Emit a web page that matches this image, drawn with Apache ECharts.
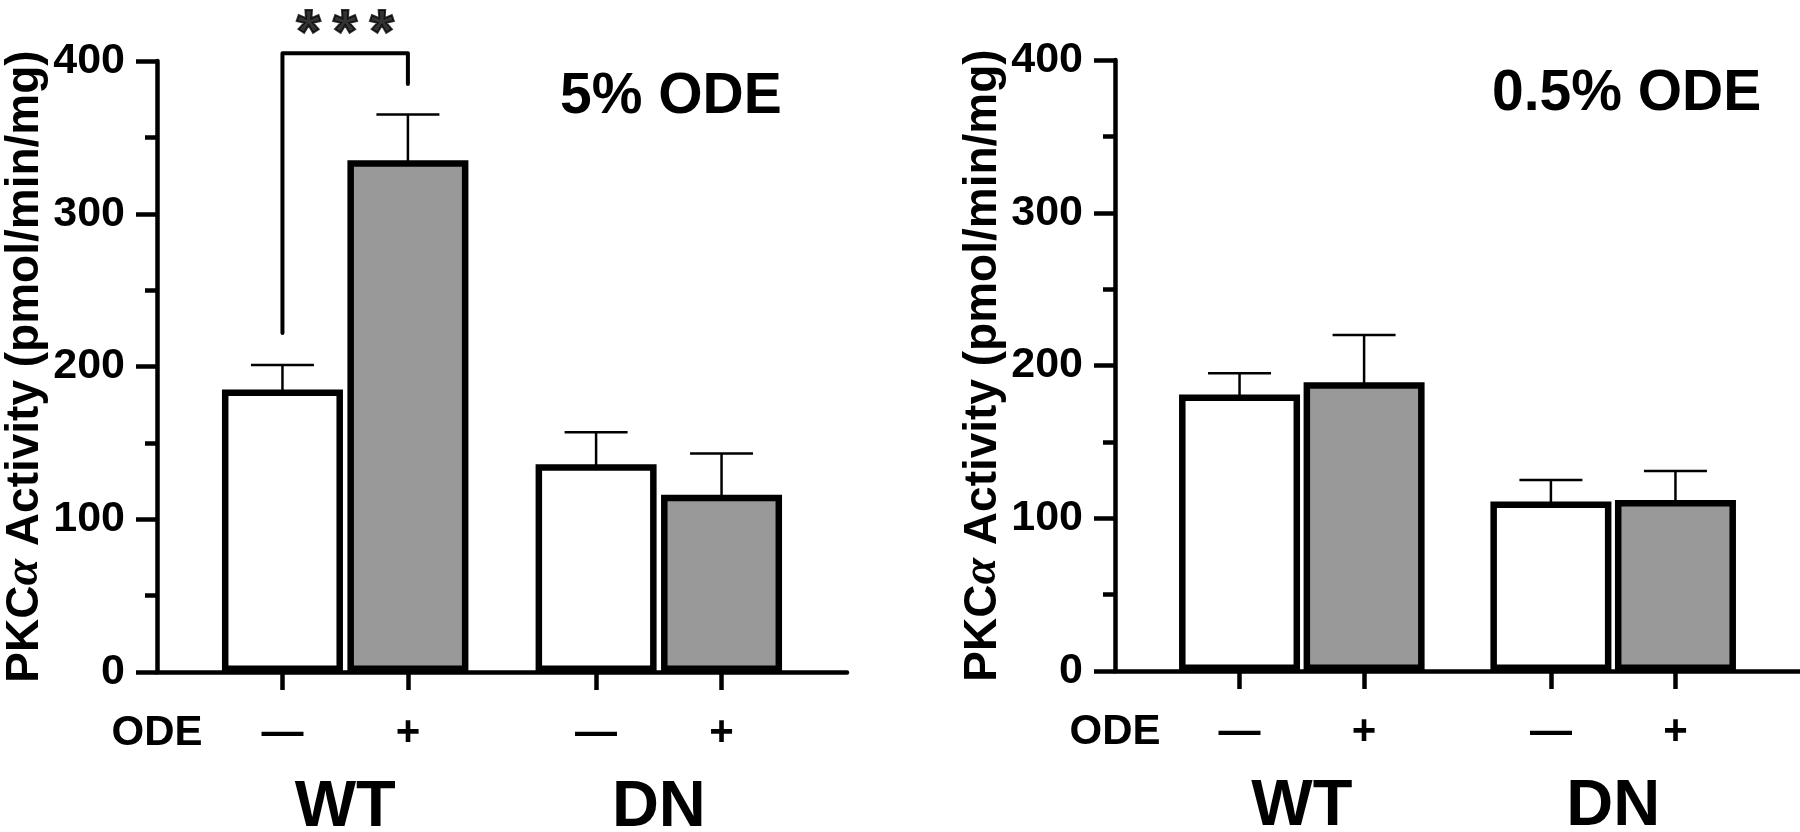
<!DOCTYPE html>
<html>
<head>
<meta charset="utf-8">
<script src="https://cdn.jsdelivr.net/npm/echarts@6/dist/echarts.min.js"></script>
<style>
  html, body { margin: 0; padding: 0; background: #fff; }
  #chart { width: 1800px; height: 832px; }
</style>
</head>
<body>
<div id="chart"></div>
<script>
// data
var groups = ['WT', 'DN'];
var odeSigns = ['—', '+', '—', '+'];
var mean5 = [185, 335, 136, 116];
var sem5 = [16, 30, 21, 27];
var mean05 = [181, 189, 111, 112];
var sem05 = [14, 31, 14, 19];
var bracket5 = { from: 0, to: 1, footFrom: 222, top: 405, footTo: 385 };

// x slot of each bar (WT-, WT+, DN-, DN+), group centres
var slots = [0, 1, 2.5, 3.5];
var groupSlots = [0.5, 3];

var FONT = 'Liberation Sans, Arial, Helvetica, sans-serif';
var GRAY = '#999999';

var dom = document.getElementById('chart');
var myChart = echarts.init(dom);
var option = null;

function barData(means) {
    return means.map(function (v, i) {
        return {
            value: [slots[i], v],
            itemStyle: { color: i % 2 ? GRAY : '#fff' }
        };
    });
}

function errData(means, sems) {
    return means.map(function (v, i) {
        return [slots[i], v, sems[i]];
    });
}

function renderErr(params, api) {
    var x = api.value(0), m = api.value(1), e = api.value(2);
    var p0 = api.coord([x, m]);
    var p1 = api.coord([x, m + e]);
    var half = 31.5;
    var st = { stroke: '#000', lineWidth: 2.5 };
    return {
        type: 'group',
        children: [
            { type: 'line', shape: { x1: p0[0], y1: p0[1] + 3, x2: p1[0], y2: p1[1] }, style: st },
            { type: 'line', shape: { x1: p1[0] - half, y1: p1[1], x2: p1[0] + half, y2: p1[1] }, style: st }
        ]
    };
}

function odeAxis(gridIndex) {
    return {
        type: 'value',
        gridIndex: gridIndex,
        position: 'bottom',
        min: -1,
        max: 4.5,
        splitLine: { show: false },
        axisLine: { show: true, onZero: false, lineStyle: { color: '#000', width: 4.5 } },
        axisTick: { show: true, length: 18, customValues: slots, lineStyle: { color: '#000', width: 4.5 } },
        axisLabel: {
            show: true,
            customValues: [-1].concat(slots),
            margin: 40,
            color: '#000',
            fontFamily: FONT,
            fontWeight: 'bold',
            fontSize: 42,
            formatter: function (v) {
                if (v === -1) return 'ODE';
                return odeSigns[slots.indexOf(v)];
            }
        }
    };
}

function groupAxis(gridIndex) {
    return {
        type: 'value',
        gridIndex: gridIndex,
        position: 'bottom',
        min: -1,
        max: 4.5,
        splitLine: { show: false },
        axisLine: { show: false, onZero: false },
        axisTick: { show: false },
        axisLabel: {
            show: true,
            customValues: groupSlots,
            margin: 104,
            color: '#000',
            fontFamily: FONT,
            fontWeight: 'bold',
            fontSize: 65,
            formatter: function (v) {
                return groups[groupSlots.indexOf(v)];
            }
        }
    };
}

function yAxis(gridIndex) {
    return {
        type: 'value',
        gridIndex: gridIndex,
        position: 'left',
        min: 0,
        max: 400,
        interval: 100,
        name: '{t|PKC}{g|α}{t| Activity (pmol/min/mg)}',
        nameLocation: 'middle',
        nameGap: 108,
        nameTextStyle: {
            color: '#000', fontFamily: FONT, fontWeight: 'bold', fontSize: 46,
            rich: {
                t: { color: '#000', fontFamily: FONT, fontWeight: 'bold', fontSize: 46 },
                g: { color: '#000', fontFamily: 'Liberation Serif, serif', fontStyle: 'italic', fontSize: 48 }
            }
        },
        splitLine: { show: false },
        axisLine: { show: true, onZero: false, lineStyle: { color: '#000', width: 4.5 } },
        axisTick: { show: true, length: 21, lineStyle: { color: '#000', width: 4.5 } },
        minorTick: { show: true, splitNumber: 2, length: 12, lineStyle: { color: '#000', width: 4.5 } },
        axisLabel: { margin: 32, color: '#000', fontFamily: FONT, fontWeight: 'bold', fontSize: 43 }
    };
}

function barSeries(xi, yi, means) {
    return {
        type: 'bar',
        xAxisIndex: xi,
        yAxisIndex: yi,
        barWidth: 121,
        barMinWidth: 121,
        barMaxWidth: 121,
        z: 3,
        itemStyle: { borderColor: '#000', borderWidth: 6.5 },
        data: barData(means)
    };
}

function errSeries(xi, yi, means, sems) {
    return {
        type: 'custom',
        xAxisIndex: xi,
        yAxisIndex: yi,
        z: 2,
        renderItem: renderErr,
        data: errData(means, sems)
    };
}

var b = bracket5;
var bracketLine = [
    [slots[b.from], b.footFrom],
    [slots[b.from], b.top],
    [slots[b.to], b.top],
    [slots[b.to], b.footTo]
];

option = {
    backgroundColor: '#fff',
    animation: false,
    title: [
        { text: '5% ODE', left: 560, top: 69, padding: 0,
          textStyle: { color: '#000', fontFamily: FONT, fontWeight: 'bold', fontSize: 57 } },
        { text: '0.5% ODE', left: 1492, top: 66, padding: 0,
          textStyle: { color: '#000', fontFamily: FONT, fontWeight: 'bold', fontSize: 57 } }
    ],
    grid: [
        { left: 157, top: 61, width: 690, height: 611, outerBoundsMode: 'none' },
        { left: 1115, top: 60, width: 685, height: 611, outerBoundsMode: 'none' }
    ],
    xAxis: [odeAxis(0), groupAxis(0), odeAxis(1), groupAxis(1)],
    yAxis: [yAxis(0), yAxis(1)],
    series: [
        errSeries(0, 0, mean5, sem5),
        barSeries(0, 0, mean5),
        errSeries(2, 1, mean05, sem05),
        barSeries(2, 1, mean05),
        {
            type: 'line',
            xAxisIndex: 0,
            yAxisIndex: 0,
            clip: false,
            symbol: 'none',
            lineStyle: { color: '#000', width: 4, join: 'round', cap: 'round' },
            data: bracketLine
        },
        {
            type: 'scatter',
            xAxisIndex: 0,
            yAxisIndex: 0,
            clip: false,
            symbolSize: 1,
            itemStyle: { color: 'rgba(0,0,0,0)' },
            label: {
                show: true,
                position: 'top',
                distance: -13,
                formatter: '*\u2009*\u2009*',
                color: '#000',
                textBorderColor: '#000',
                textBorderWidth: 2,
                fontFamily: FONT,
                fontWeight: 'bold',
                fontSize: 62
            },
            data: [[(slots[b.from] + slots[b.to]) / 2, b.top]]
        }
    ]
};

if (option && typeof option === 'object') {
    myChart.setOption(option, true);
}
</script>
</body>
</html>
